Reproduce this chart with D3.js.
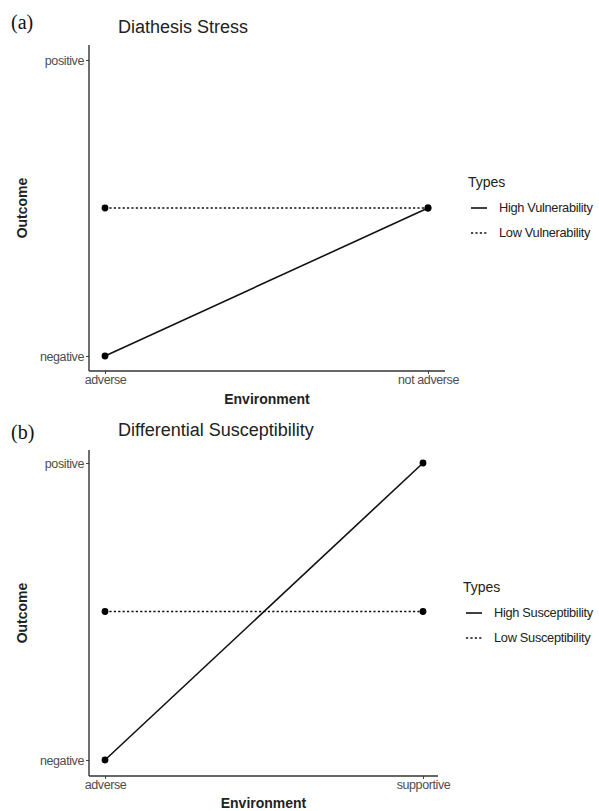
<!DOCTYPE html>
<html><head><meta charset="utf-8">
<script src="https://cdn.jsdelivr.net/npm/d3@7"></script>
<style>body{margin:0;background:#fff}</style>
</head><body>
<svg id="c" width="599" height="811"></svg>
<script>
const outcomeLevels = ["negative", "positive"];
const panelLabels = ["(a)", "(b)"];
const panelTitles = ["Diathesis Stress", "Differential Susceptibility"];
const envA = ["adverse", "not adverse"];
const envB = ["adverse", "supportive"];
const typesA = ["High Vulnerability", "Low Vulnerability"];
const typesB = ["High Susceptibility", "Low Susceptibility"];
// outcome values: 0 = negative, 1 = positive
const highA = [0, 0.5];
const lowA = [0.5, 0.5];
const highB = [0, 1];
const lowB = [0.5, 0.5];

const svg = d3.select("#c");
const SANS = "Liberation Sans, Arial, sans-serif";
const panels = [
  {label: panelLabels[0], title: panelTitles[0], env: envA, types: typesA, series: [highA, lowA],
   top: 45, bottom: 371, x0: 89, x1: 445, yPos: 60, yNeg: 356, xL: 105, xR: 428,
   labY: 29, titY: 33, legX: 468, legY: 182, envY: 404},
  {label: panelLabels[1], title: panelTitles[1], env: envB, types: typesB, series: [highB, lowB],
   top: 450, bottom: 776, x0: 89, x1: 438, yPos: 463, yNeg: 760, xL: 105, xR: 423,
   labY: 439, titY: 436, legX: 463, legY: 587, envY: 808}
];

panels.forEach(p => {
  const g = svg.append("g");
  const x = d3.scalePoint().domain(p.env).range([p.xL, p.xR]);
  const y = d3.scaleLinear().domain([0, 1]).range([p.yNeg, p.yPos]);
  const yAxis = d3.axisLeft(y).tickValues([0, 1]).tickFormat((d, i) => outcomeLevels[i]).tickSize(3).tickPadding(2);
  const xAxis = d3.axisBottom(x).tickSize(3).tickPadding(1);

  const ya = g.append("g").attr("transform", `translate(${p.x0},0)`).call(yAxis);
  ya.select(".domain").remove();
  const xa = g.append("g").attr("transform", `translate(0,${p.bottom})`).call(xAxis);
  xa.select(".domain").remove();
  [ya, xa].forEach(a => {
    a.selectAll(".tick line").attr("stroke", "#444");
    a.selectAll(".tick text").attr("fill", "#4d4d4d").style("font-family", SANS)
      .style("font-size", "12.5px").style("letter-spacing", "-0.4px");
  });
  // axis lines
  g.append("line").attr("x1", p.x0).attr("x2", p.x0).attr("y1", p.top).attr("y2", p.bottom)
    .attr("stroke", "#333").attr("stroke-width", 1.4);
  g.append("line").attr("x1", p.x0).attr("x2", p.x1).attr("y1", p.bottom).attr("y2", p.bottom)
    .attr("stroke", "#333").attr("stroke-width", 1.4);

  const line = d3.line().x((d, i) => x(p.env[i])).y(d => y(d));
  p.series.forEach((s, k) => {
    g.append("path").attr("d", line(s)).attr("fill", "none").attr("stroke", "#111")
      .attr("stroke-width", 1.6).attr("stroke-dasharray", k === 1 ? "2.2,2.2" : null);
    g.selectAll(null).data(s).enter().append("circle")
      .attr("cx", (d, i) => x(p.env[i])).attr("cy", d => y(d)).attr("r", 3.4).attr("fill", "#000");
  });

  g.append("text").attr("x", 11).attr("y", p.labY).text(p.label)
    .style("font-family", "Liberation Serif, Times New Roman, serif").style("font-size", "20px").attr("fill", "#111");
  g.append("text").attr("x", 118).attr("y", p.titY).text(p.title)
    .style("font-family", SANS).style("font-size", "18px").attr("fill", "#222");
  g.append("text").attr("transform", `translate(27,${(p.top + p.bottom) / 2}) rotate(-90)`).attr("text-anchor", "middle")
    .text("Outcome").style("font-family", SANS).style("font-size", "14px")
    .style("font-weight", "bold").attr("fill", "#222");
  g.append("text").attr("x", (p.x0 + p.x1) / 2).attr("y", p.envY).attr("text-anchor", "middle")
    .text("Environment").style("font-family", SANS).style("font-size", "14px")
    .style("font-weight", "bold").attr("fill", "#222");

  // legend
  const lg = g.append("g");
  lg.append("text").attr("x", p.legX).attr("y", p.legY + 5).text("Types")
    .style("font-family", SANS).style("font-size", "14px").attr("fill", "#222");
  p.types.forEach((t, k) => {
    const yy = p.legY + 26 + k * 25;
    lg.append("line").attr("x1", p.legX + 3).attr("x2", p.legX + 19).attr("y1", yy).attr("y2", yy)
      .attr("stroke", "#111").attr("stroke-width", 1.6).attr("stroke-dasharray", k === 1 ? "2.2,2.2" : null);
    lg.append("text").attr("x", p.legX + 31).attr("y", yy + 4).text(t)
      .style("font-family", SANS).style("font-size", "12.8px")
      .style("letter-spacing", "-0.3px").attr("fill", "#222");
  });
});
</script>
</body></html>
